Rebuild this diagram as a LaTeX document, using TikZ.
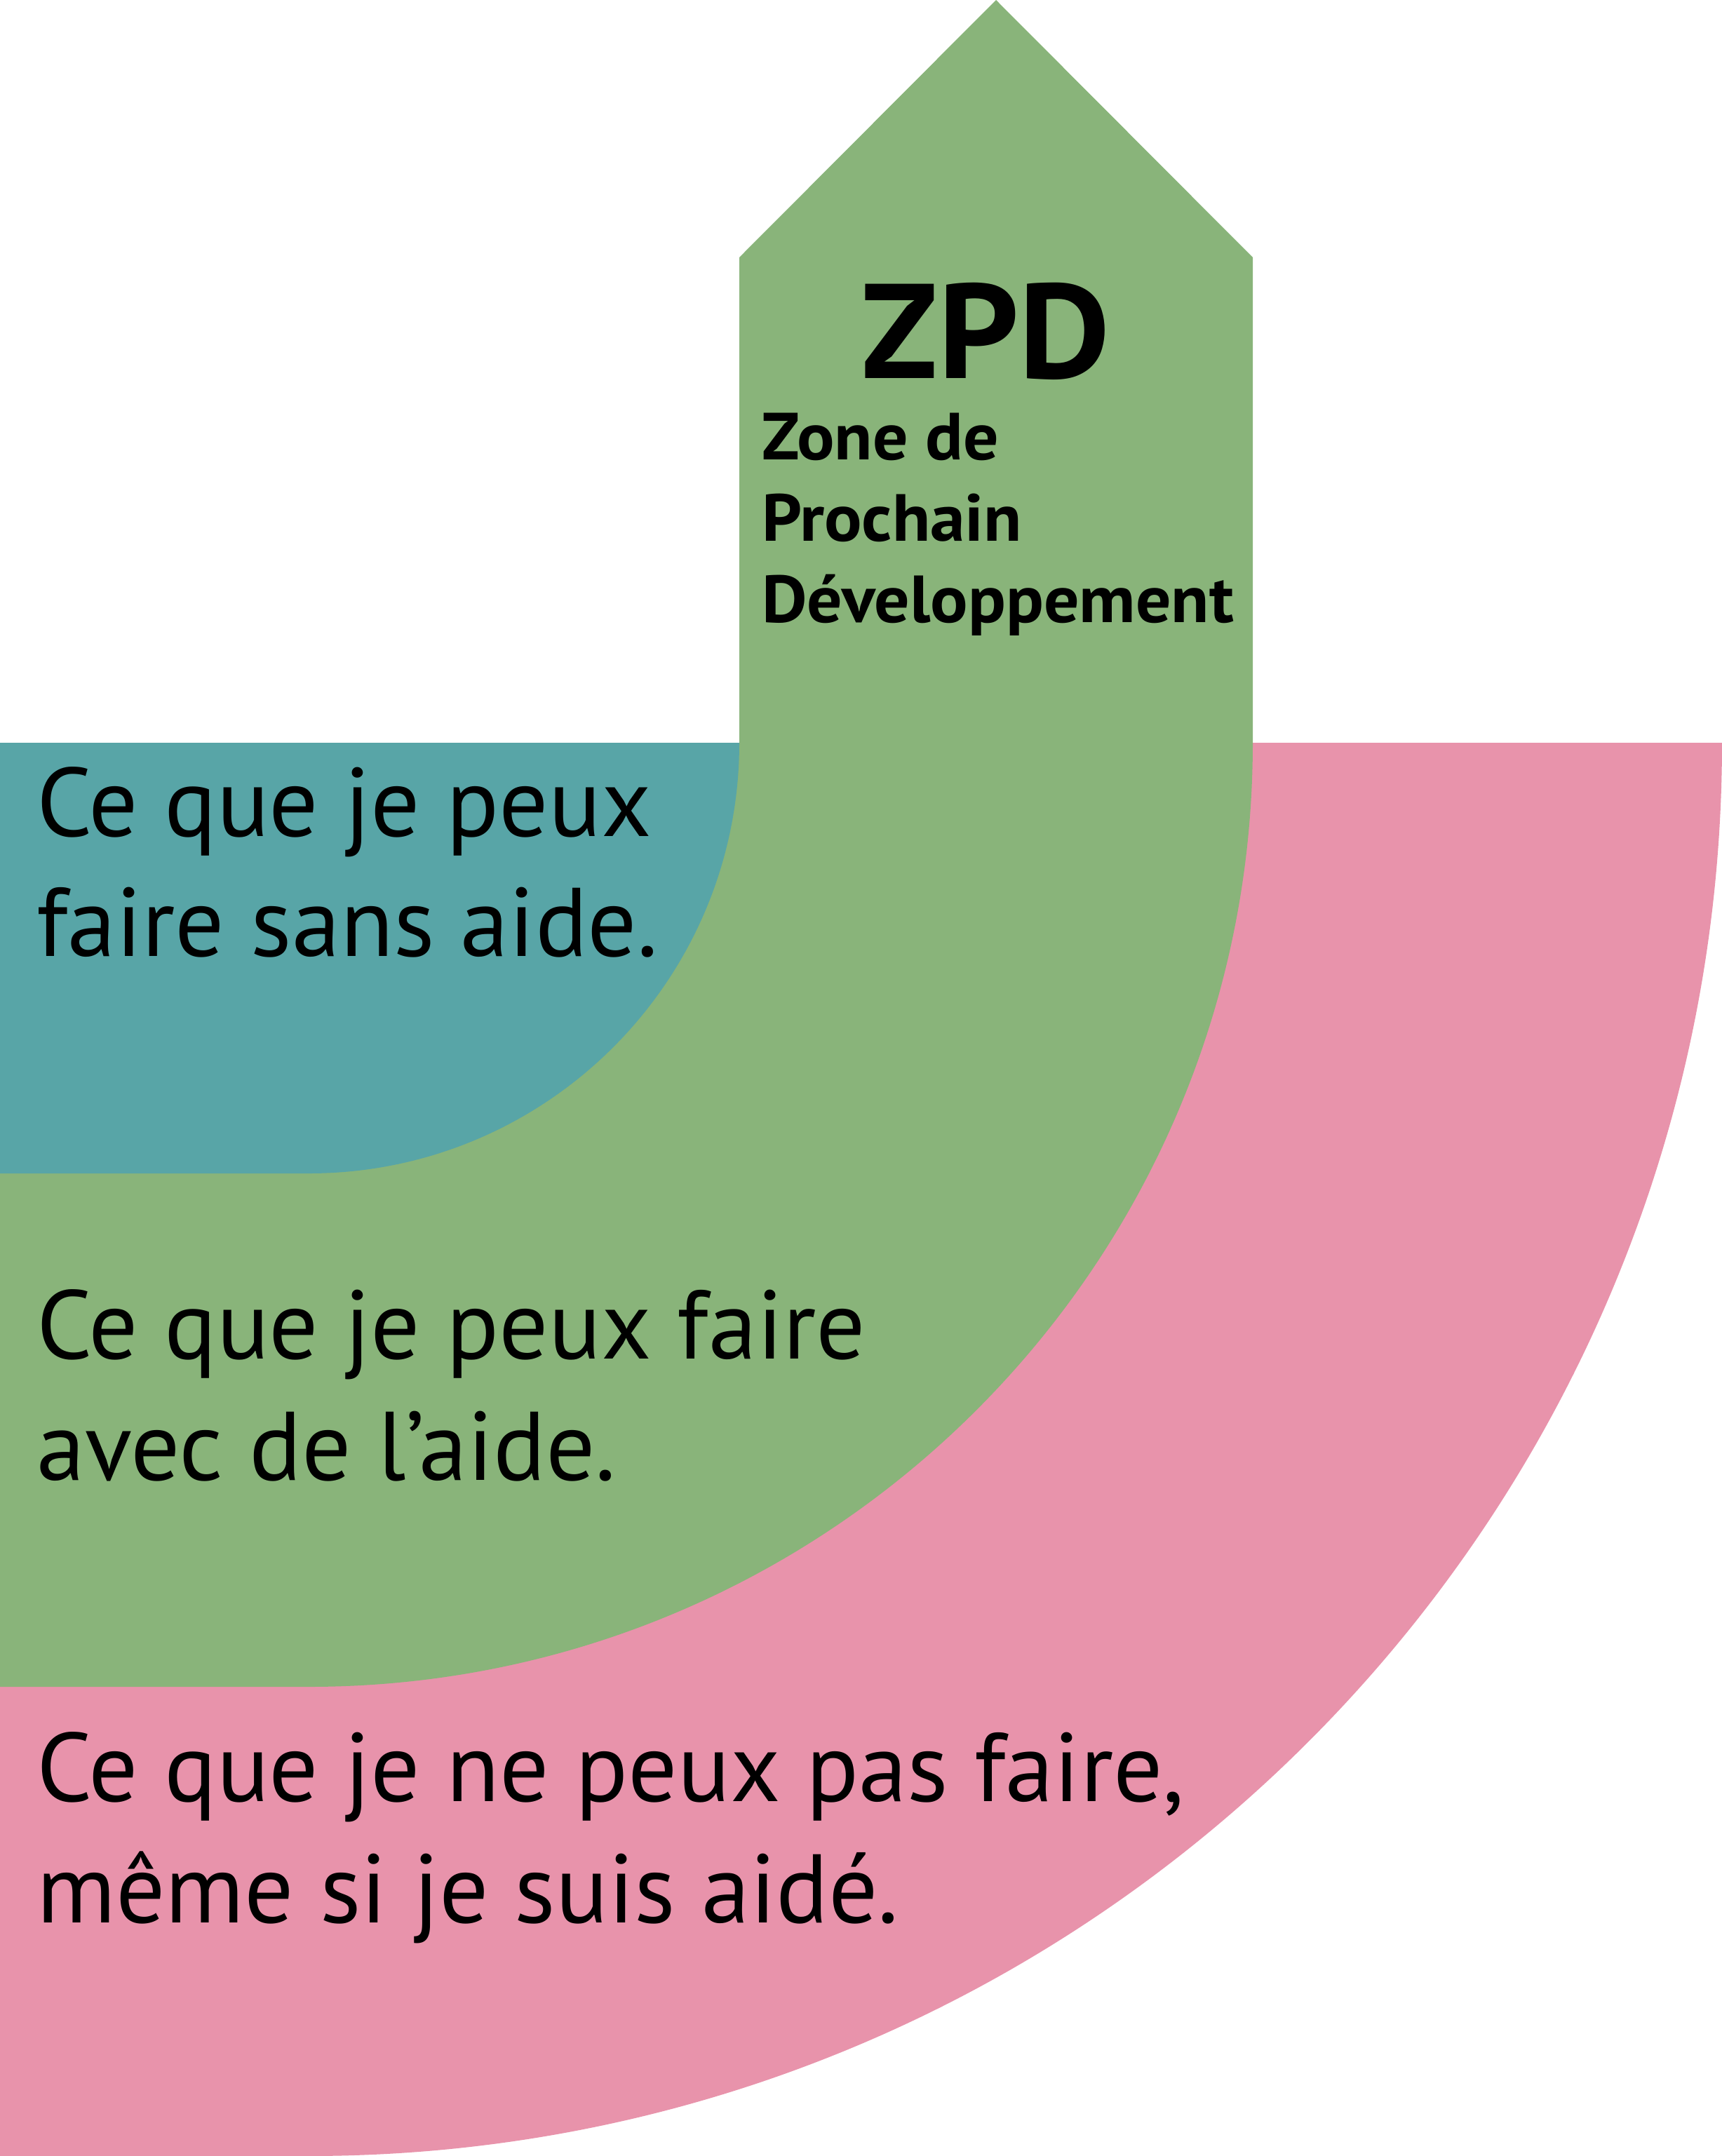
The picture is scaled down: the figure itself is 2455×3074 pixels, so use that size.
\documentclass[tikz,border=0pt]{standalone}
\usepackage{fontspec}
\setmainfont{PT Sans}
\newfontfamily\zwide[FakeStretch=1.05]{PT Sans}
\definecolor{zteal}{HTML}{58A5A7}
\definecolor{zgreen}{HTML}{89B47A}
\definecolor{zpink}{HTML}{E893AB}
\begin{document}
\begin{tikzpicture}[x=1pt,y=1pt,
  body/.style={anchor=base west,inner sep=0pt,font=\fontsize{139}{139}\selectfont},
  small/.style={anchor=base west,inner sep=0pt,font=\zwide\bfseries\fontsize{95}{95}\selectfont},
  big/.style={anchor=base,inner sep=0pt,font=\zwide\bfseries\fontsize{192}{192}\selectfont}]
\useasboundingbox (0,0) rectangle (2455,-3074);
% pink zone
\fill[zpink] (0,-1059) -- (2455,-1059) arc[start angle=0,end angle=-90,radius=2015] -- (0,-3074) -- cycle;
% green zone with arrow
\fill[zgreen] (1054,-367) -- (1420,0) -- (1786,-367) -- (1786,-1059)
  arc[start angle=0,end angle=-90,radius=1346] -- (0,-2405) -- (0,-1059) -- (1054,-1059) -- cycle;
% teal zone
\fill[zteal] (0,-1059) -- (1054,-1059) arc[start angle=0,end angle=-90,radius=614] -- (0,-1673) -- cycle;
% texts
\node[big] (zpd) at (1406,-539) {ZPD};
\node[small] (z1) at (1086,-655) {Zone de};
\node[small] (z2) at (1086,-771) {Prochain};
\node[small] (z3) at (1086,-887) {Développement};
\node[body] (a1) at (52,-1192) {Ce que je peux};
\node[body] (a2) at (52,-1363) {faire sans aide.};
\node[body] (b1) at (52,-1937) {Ce que je peux faire};
\node[body] (b2) at (52,-2110) {avec de l’aide.};
\node[body] (c1) at (52,-2568) {Ce que je ne peux pas faire,};
\node[body] (c2) at (52,-2741) {même si je suis aidé.};
\end{tikzpicture}
\end{document}
